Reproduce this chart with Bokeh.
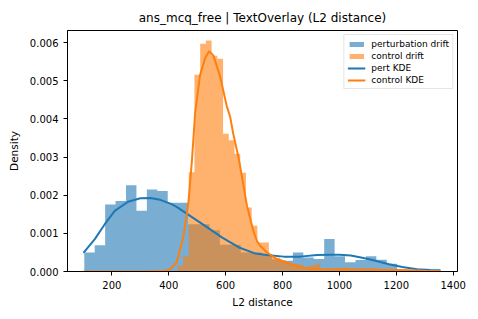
import numpy as np
from bokeh.plotting import figure
from bokeh.models import Range1d, FixedTicker, NumeralTickFormatter, Legend, LegendItem
from bokeh.embed import file_html
from bokeh.resources import INLINE

# ---- data ----
title_text = "ans_mcq_free | TextOverlay (L2 distance)"
x_label = "L2 distance"
y_label = "Density"
x_ticks = [200, 400, 600, 800, 1000, 1200, 1400]
y_ticks = [0.000, 0.001, 0.002, 0.003, 0.004, 0.005, 0.006]

# perturbation drift histogram (density), 30 equal bins
pert_bin_start = 103.0
pert_bin_end = 1203.0
pert_density = [0.00050, 0.00069, 0.00176, 0.00185, 0.00226, 0.00159, 0.00215, 0.00211,
                0.00180, 0.00180, 0.00124, 0.00124, 0.00108, 0.00070, 0.00070, 0.00050,
                0.00050, 0.00045, 0.00032, 0.00028, 0.00050, 0.00037, 0.00033, 0.00085,
                0.00040, 0.00024, 0.00030, 0.00040, 0.00031, 0.00020]

# control drift histogram (density), 46 equal bins
ctrl_bin_start = 430.0
ctrl_bin_end = 1355.0
ctrl_density = [0.00015, 0.00040, 0.00260, 0.00516, 0.00597, 0.00606, 0.00566, 0.00558,
                0.00361, 0.00344, 0.00309, 0.00259, 0.00168, 0.00120, 0.00076, 0.00076,
                0.00040, 0.00037, 0.00030, 0.00025, 0.00020, 0.00018, 0.00010, 0.00015,
                0.00020, 0.00005, 0.00004, 0.00003, 0.00008, 0.00010, 0.00006, 0.00003,
                0.00004, 0.00003, 0.00008, 0.00003, 0.00002, 0.00003, 0.00002, 0.00002,
                0.00001, 0.00001, 0.00000, 0.00001, 0.00000, 0.00003]

# KDE curves
pert_kde_x = [100, 140, 175, 210, 257, 300, 335, 370, 412, 433, 471, 529, 588, 647, 705,
              745, 804, 862, 921, 970, 1000, 1040, 1080, 1116, 1174, 1221, 1273, 1320, 1355]
pert_kde_y = [0.00049, 0.00085, 0.00124, 0.00159, 0.00183, 0.00192, 0.00193, 0.00188,
              0.00176, 0.00167, 0.00148, 0.00119, 0.00089, 0.00063, 0.00047, 0.00043,
              0.00039, 0.00039, 0.00043, 0.00044, 0.00044, 0.00042, 0.00036, 0.00030,
              0.00019, 0.00012, 0.00006, 0.00004, 0.00003]

ctrl_kde_x = [100, 300, 380, 405, 428, 452, 469, 481, 493, 510, 528, 542, 557, 581, 604,
              616, 627, 645, 651, 675, 698, 710, 722, 745, 780, 827, 874, 921, 960, 1000,
              1050, 1100, 1150, 1200, 1250, 1300, 1355]
ctrl_kde_y = [0.0, 0.0, 0.00001, 0.00006, 0.00024, 0.00093, 0.00180, 0.00287, 0.00418,
              0.00515, 0.00560, 0.00578, 0.00566, 0.00510, 0.00433, 0.00405, 0.00360,
              0.00300, 0.00275, 0.00172, 0.00105, 0.00080, 0.00067, 0.00050, 0.00032,
              0.00019, 0.00010, 0.00006, 0.00005, 0.00006, 0.00005, 0.00005, 0.00004,
              0.00004, 0.00003, 0.00002, 0.00001]

BLUE = "#1f77b4"
ORANGE = "#ff7f0e"
FONT = "DejaVu Sans"


def step_outline(start, end, heights):
    edges = np.linspace(start, end, len(heights) + 1)
    xs = [edges[0]]
    ys = [0.0]
    for i, h in enumerate(heights):
        xs += [edges[i], edges[i + 1]]
        ys += [h, h]
    xs.append(edges[-1])
    ys.append(0.0)
    return xs, ys


pert_xs, pert_ys = step_outline(pert_bin_start, pert_bin_end, pert_density)
ctrl_xs, ctrl_ys = step_outline(ctrl_bin_start, ctrl_bin_end, ctrl_density)

p = figure(width=470, height=313, output_backend="svg", toolbar_location=None,
           x_range=Range1d(44, 1415), y_range=Range1d(0, 0.00632),
           min_border_left=67, min_border_right=13, min_border_top=30, min_border_bottom=42)

r_ph = p.patch(pert_xs, pert_ys, fill_color=BLUE, fill_alpha=0.6, line_color=None)
r_ch = p.patch(ctrl_xs, ctrl_ys, fill_color=ORANGE, fill_alpha=0.6, line_color=None)
r_pk = p.line(pert_kde_x, pert_kde_y, line_color=BLUE, line_width=2)
r_ck = p.line(ctrl_kde_x, ctrl_kde_y, line_color=ORANGE, line_width=2)

p.title.text = title_text
p.title.align = "center"
p.title.text_font = FONT
p.title.text_font_size = "12px"
p.title.text_font_style = "normal"
p.title.text_color = "black"
p.title.standoff = 12

p.xaxis.axis_label = x_label
p.yaxis.axis_label = y_label
p.xaxis.ticker = FixedTicker(ticks=x_ticks)
p.yaxis.ticker = FixedTicker(ticks=y_ticks)
p.yaxis.formatter = NumeralTickFormatter(format="0.000")
for ax in (p.xaxis[0], p.yaxis[0]):
    ax.axis_label_text_font = FONT
    ax.axis_label_text_font_size = "10.5px"
    ax.axis_label_text_font_style = "normal"
    ax.axis_label_text_color = "black"
    ax.major_label_text_font = FONT
    ax.major_label_text_font_size = "10px"
    ax.major_label_text_color = "black"
    ax.axis_line_color = "black"
    ax.major_tick_line_color = "black"
    ax.major_tick_in = 0
    ax.major_tick_out = 4
    ax.minor_tick_line_color = None
p.xaxis.axis_label_standoff = 4
p.yaxis.axis_label_standoff = 7
p.xgrid.visible = False
p.ygrid.visible = False
p.outline_line_color = "black"
p.outline_line_alpha = 1.0

legend = Legend(items=[
    LegendItem(label="perturbation drift", renderers=[r_ph]),
    LegendItem(label="control drift", renderers=[r_ch]),
    LegendItem(label="pert KDE", renderers=[r_pk]),
    LegendItem(label="control KDE", renderers=[r_ck]),
], location="top_right")
legend.label_text_font = FONT
legend.label_text_font_size = "9px"
legend.label_text_color = "black"
legend.glyph_width = 18
legend.glyph_height = 6
legend.label_height = 11
legend.label_standoff = 6
legend.spacing = 1
legend.padding = 3
legend.margin = 4
legend.border_line_color = "#cccccc"
legend.background_fill_alpha = 0.8
p.add_layout(legend)

open("out.html", "w").write(file_html(p, INLINE))
